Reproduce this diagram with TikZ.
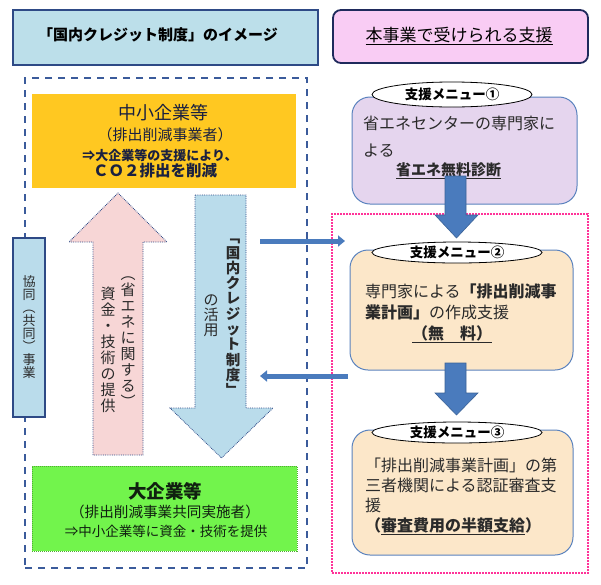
\documentclass[tikz,border=0pt]{standalone}
\usepackage{fontspec}
\setmainfont{Noto Sans CJK JP}
\usetikzlibrary{arrows.meta,shapes.geometric}
\newcommand\jfs[1]{\fontsize{#1pt}{#1pt}\selectfont}
\definecolor{ttlblue}{HTML}{BCDFEA}
\definecolor{ttlborder}{HTML}{2E4A86}
\definecolor{ttlpink}{HTML}{F9CCF4}
\definecolor{navy}{HTML}{1F2A5C}
\definecolor{gold}{HTML}{FFC821}
\definecolor{lime}{HTML}{72F44C}
\definecolor{pinkarrow}{HTML}{F7D6D6}
\definecolor{lightblue}{HTML}{BADCEB}
\definecolor{lavender}{HTML}{E5D5EE}
\definecolor{beige}{HTML}{FCE7C9}
\definecolor{steel}{HTML}{4A7BBD}
\definecolor{menuborder}{HTML}{5A82BE}
\definecolor{magentaline}{HTML}{FF3399}
\definecolor{dashblue}{HTML}{3B5B9B}
\definecolor{txt}{HTML}{2A2A2A}
\definecolor{yeltxt}{HTML}{1A2040}
\definecolor{grntxt}{HTML}{102010}
\begin{document}
\begin{tikzpicture}[x=1pt,y=-1pt,
  every node/.style={inner sep=0pt,outer sep=0pt},
  menubox/.style={rectangle,rounded corners=18pt,draw=menuborder,line width=1pt},
  menuoval/.style={ellipse,draw=black,fill=white,line width=0.8pt,font=\bfseries\jfs{13.5},text=black},
  menutext/.style={anchor=base west,font=\jfs{16},text=txt},
  harrow/.style={draw=steel,line width=5pt,-{Triangle[length=7pt,width=11pt]}},
  blockarrow/.style={fill=steel,draw=steel!80!black,line width=0.6pt},
  vchar/.style={anchor=base,text=txt}]
\useasboundingbox (0,0) rectangle (601,584);

% titles
\node[rectangle,draw=ttlborder,line width=1.5pt,fill=ttlblue,minimum width=305pt,minimum height=55pt] (ltitle) at (165.5,37.5) {};
\node[anchor=base,font=\bfseries\jfs{15},text=black] (ltitletext) at (158,40.7) {「国内クレジット制度」のイメージ};
\node[rectangle,rounded corners=8pt,draw=navy,line width=1.8pt,fill=ttlpink,minimum width=255pt,minimum height=53pt] (rtitle) at (460.5,36.5) {};
\node[anchor=base,font=\jfs{17},text=black] (rtitletext) at (459,41.5) {\underline{本事業で受けられる支援}};

% containers
\node[rectangle,draw=dashblue,line width=1.5pt,dash pattern=on 7pt off 6pt,minimum width=282pt,minimum height=490pt] (leftframe) at (166,323) {};
\node[rectangle,draw=magentaline,line width=2pt,dash pattern=on 2pt off 1pt,minimum width=256pt,minimum height=359pt] (pinkframe) at (460,393.5) {};

% yellow box
\node[rectangle,draw=gold,fill=gold,line width=0.8pt,minimum width=263pt,minimum height=93pt] (smes) at (163.5,140.5) {};
\node[anchor=base,font=\jfs{18},text=yeltxt] (smes1) at (163,119.8) {中小企業等};
\node[anchor=base,font=\jfs{15},text=yeltxt] (smes2) at (165,140.7) {（排出削減事業者）};
\node[anchor=base,font=\bfseries\jfs{13},text=yeltxt] (smes3) at (160,160) {⇒大企業等の支援により、};
\node[anchor=base,font=\bfseries\jfs{15.5},text=yeltxt] (smes4) at (155,176.7) {ＣＯ２排出を削減};

% green box
\node[rectangle,draw=lime!70!black,fill=lime,line width=1pt,densely dotted,minimum width=265pt,minimum height=85pt] (large) at (164.5,508.5) {};
\node[anchor=base,font=\bfseries\jfs{18.5},text=grntxt] (large1) at (165,498) {大企業等};
\node[anchor=base,font=\jfs{14.6},text=grntxt] (large2) at (165,517.5) {（排出削減事業共同実施者）};
\node[anchor=base,font=\jfs{13.5},text=grntxt] (large3) at (166,536) {⇒中小企業等に資金・技術を提供};

% joint project box
\node[rectangle,draw=ttlborder,fill=lightblue,line width=1.2pt,minimum width=32pt,minimum height=179pt] (joint) at (29,327.5) {};
\foreach \c [count=\i] in {協,同,︵,共,同,︶,事,業}
  \node[vchar,font=\jfs{13}] (ky\i) at (29,{275+13*(\i-1)+11.44}) {\c};

% up arrow (pink)
\path[draw=ttlborder,densely dotted,line width=0.8pt,fill=pinkarrow]
  (93,455) -- (93,242) -- (69,242) -- (118,193) -- (167,242) -- (143,242) -- (143,455) -- cycle;
\foreach \c [count=\i] in {︵,省,エ,ネ,に,関,す,る,︶}
  \node[vchar,font=\jfs{15}] (upr\i) at (128,{266+16*(\i-1)+13.2}) {\c};
\foreach \c [count=\i] in {資,金,・,技,術,の,提,供}
  \node[vchar,font=\jfs{15}] (upl\i) at (108,{286+16*(\i-1)+13.2}) {\c};

% down arrow (light blue)
\path[draw=ttlborder,densely dotted,line width=0.8pt,fill=lightblue]
  (195,195) -- (246,195) -- (246,408) -- (273,408) -- (221.5,458) -- (170,408) -- (195,408) -- cycle;
\foreach \c [count=\i] in {﹁,国,内,ク,レ,ジ,ッ,ト,制,度,﹂}
  \node[vchar,font=\bfseries\jfs{14.5}] (dnr\i) at (233,{230+15.3*(\i-1)+12.76}) {\c};
\foreach \c [count=\i] in {の,活,用}
  \node[vchar,font=\jfs{15}] (dnl\i) at (211,{292+15*(\i-1)+13.2}) {\c};

% menu 1
\node[menubox,fill=lavender,minimum width=225pt,minimum height=107pt] (m1) at (464.5,150.5) {};
\node[menutext] (m1a) at (363,129.1) {省エネセンターの専門家に};
\node[menutext] (m1b) at (363,156.1) {よる};
\node[anchor=base,font=\bfseries\jfs{15},text=txt] (m1c) at (448.5,175.7) {\underline{省エネ無料診断}};

% menu 2
\node[menubox,fill=beige,minimum width=223pt,minimum height=120pt] (m2) at (461.5,310) {};
\node[menutext] (m2a) at (365,297.1) {専門家による{\bfseries 「排出削減事}};
\node[menutext] (m2b) at (365,318.1) {{\bfseries 業計画」}の作成支援};
\node[anchor=base,font=\bfseries\jfs{16},text=txt] (m2c) at (452,339.1) {\underline{（無　料）}};

% menu 3
\node[menubox,fill=beige,minimum width=221pt,minimum height=125pt] (m3) at (462.5,492.5) {};
\node[menutext] (m3a) at (365,471.1) {「排出削減事業計画」の第};
\node[menutext] (m3b) at (365,491.1) {三者機関による認証審査支};
\node[menutext] (m3c) at (365,511.1) {援};
\node[menutext,font=\bfseries\jfs{16}] (m3d) at (365,531.1) {（\underline{審査費用の半額支給}）};

% flow arrows between menus
\path[blockarrow] (445,176) -- (466,176) -- (466,215) -- (478,215) -- (456.5,238) -- (435,215) -- (445,215) -- cycle;
\path[blockarrow] (445,363) -- (466,363) -- (466,393) -- (478,393) -- (456.5,415) -- (435,393) -- (445,393) -- cycle;

% ovals
\node[menuoval,minimum width=160pt,minimum height=25pt] (o1) at (452,94.5) {支援メニュー①};
\node[menuoval,minimum width=170pt,minimum height=21pt] (o2) at (457,252.5) {支援メニュー②};
\node[menuoval,minimum width=170pt,minimum height=21pt] (o3) at (457,432.5) {支援メニュー③};

% horizontal arrows
\coordinate (ha1s) at (260,241);
\coordinate (ha1e) at (345,241);
\coordinate (ha2s) at (348,376);
\coordinate (ha2e) at (260,376);
\draw[harrow] (ha1s) -- (ha1e);
\draw[harrow] (ha2s) -- (ha2e);
\end{tikzpicture}
\end{document}
